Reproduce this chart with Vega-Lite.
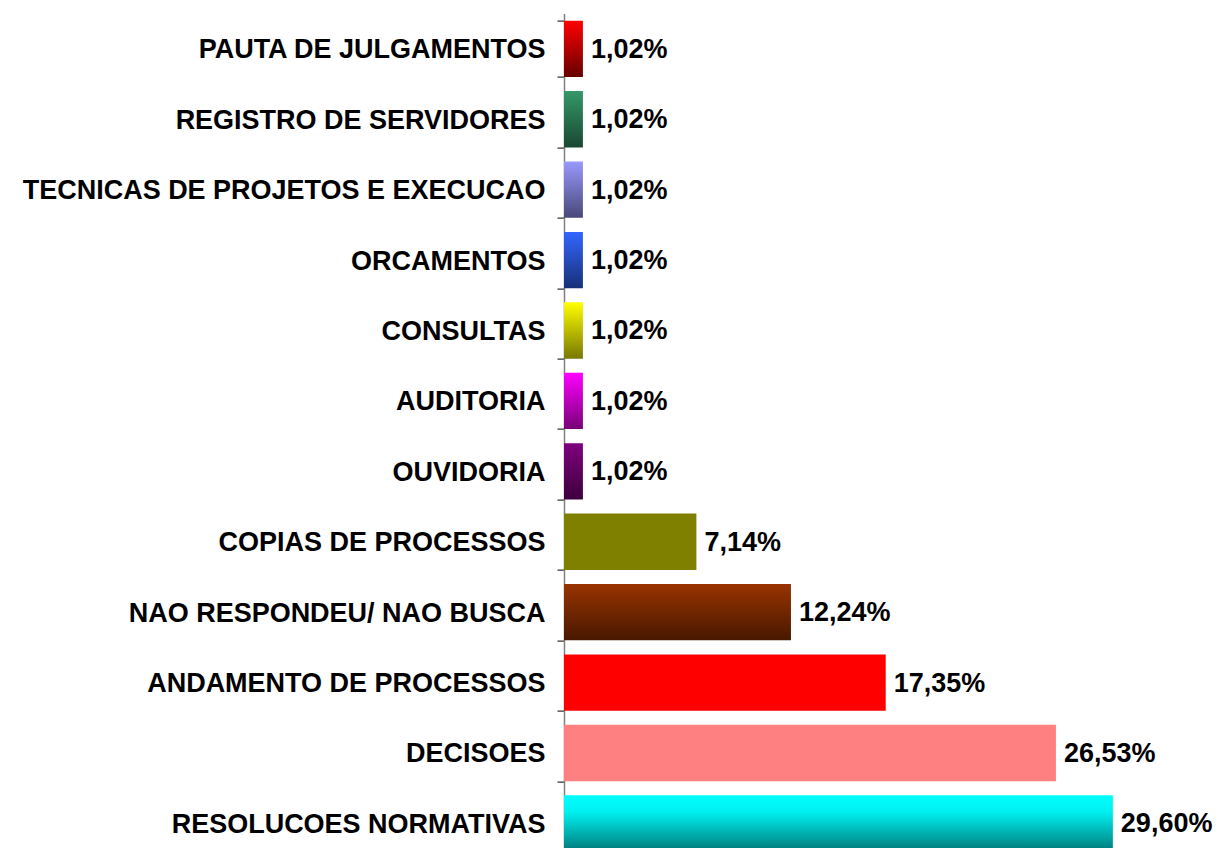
{
  "$schema": "https://vega.github.io/schema/vega-lite/v6.json",
  "autosize": {"type": "none"},
  "padding": {"left": 564, "top": 13.6, "right": 0, "bottom": 0},
  "width": 649,
  "height": 845,
  "background": "white",
  "config": {"view": {"stroke": null}, "font": "Liberation Sans"},
  "data": {"values": [
    {"cat": "PAUTA DE JULGAMENTOS", "pct": 1.02, "label": "1,02%"},
    {"cat": "REGISTRO DE SERVIDORES", "pct": 1.02, "label": "1,02%"},
    {"cat": "TECNICAS DE PROJETOS E EXECUCAO", "pct": 1.02, "label": "1,02%"},
    {"cat": "ORCAMENTOS", "pct": 1.02, "label": "1,02%"},
    {"cat": "CONSULTAS", "pct": 1.02, "label": "1,02%"},
    {"cat": "AUDITORIA", "pct": 1.02, "label": "1,02%"},
    {"cat": "OUVIDORIA", "pct": 1.02, "label": "1,02%"},
    {"cat": "COPIAS DE PROCESSOS", "pct": 7.14, "label": "7,14%"},
    {"cat": "NAO RESPONDEU/ NAO BUSCA", "pct": 12.24, "label": "12,24%"},
    {"cat": "ANDAMENTO DE PROCESSOS", "pct": 17.35, "label": "17,35%"},
    {"cat": "DECISOES", "pct": 26.53, "label": "26,53%"},
    {"cat": "RESOLUCOES NORMATIVAS", "pct": 29.60, "label": "29,60%"}
  ]},
  "encoding": {
    "y": {
      "field": "cat", "type": "nominal", "sort": null,
      "scale": {"paddingInner": 0.2, "paddingOuter": 0.1, "domain": [
        "PAUTA DE JULGAMENTOS", "REGISTRO DE SERVIDORES", "TECNICAS DE PROJETOS E EXECUCAO", "ORCAMENTOS", "CONSULTAS", "AUDITORIA", "OUVIDORIA", "COPIAS DE PROCESSOS", "NAO RESPONDEU/ NAO BUSCA", "ANDAMENTO DE PROCESSOS", "DECISOES", "RESOLUCOES NORMATIVAS"
      ]},
      "axis": {
        "title": null, "orient": "left", "domainColor": "#808080", "domainWidth": 1.5,
        "tickColor": "#000000", "tickSize": 7, "tickBand": "extent",
        "labelFont": "Liberation Sans", "labelFontWeight": "bold", "labelFontSize": 27,
        "labelColor": "#000000", "labelPadding": 12, "labelLimit": 700, "labelOffset": 1
      }
    },
    "x": {"field": "pct", "type": "quantitative", "scale": {"domain": [0, 35]}, "axis": null}
  },
  "layer": [
    {"transform": [{"filter": "datum.cat === 'PAUTA DE JULGAMENTOS'"}],
     "mark": {"type": "bar", "color": {"gradient": "linear", "x1": 0, "y1": 0, "x2": 0, "y2": 1, "stops": [{"offset": 0, "color": "#FF0000"}, {"offset": 1, "color": "#660000"}]}}},
    {"transform": [{"filter": "datum.cat === 'REGISTRO DE SERVIDORES'"}],
     "mark": {"type": "bar", "color": {"gradient": "linear", "x1": 0, "y1": 0, "x2": 0, "y2": 1, "stops": [{"offset": 0, "color": "#349967"}, {"offset": 1, "color": "#1A4733"}]}}},
    {"transform": [{"filter": "datum.cat === 'TECNICAS DE PROJETOS E EXECUCAO'"}],
     "mark": {"type": "bar", "color": {"gradient": "linear", "x1": 0, "y1": 0, "x2": 0, "y2": 1, "stops": [{"offset": 0, "color": "#9999FF"}, {"offset": 1, "color": "#484878"}]}}},
    {"transform": [{"filter": "datum.cat === 'ORCAMENTOS'"}],
     "mark": {"type": "bar", "color": {"gradient": "linear", "x1": 0, "y1": 0, "x2": 0, "y2": 1, "stops": [{"offset": 0, "color": "#3366FF"}, {"offset": 1, "color": "#183078"}]}}},
    {"transform": [{"filter": "datum.cat === 'CONSULTAS'"}],
     "mark": {"type": "bar", "color": {"gradient": "linear", "x1": 0, "y1": 0, "x2": 0, "y2": 1, "stops": [{"offset": 0, "color": "#FFFF00"}, {"offset": 1, "color": "#787800"}]}}},
    {"transform": [{"filter": "datum.cat === 'AUDITORIA'"}],
     "mark": {"type": "bar", "color": {"gradient": "linear", "x1": 0, "y1": 0, "x2": 0, "y2": 1, "stops": [{"offset": 0, "color": "#FF00FF"}, {"offset": 1, "color": "#780078"}]}}},
    {"transform": [{"filter": "datum.cat === 'OUVIDORIA'"}],
     "mark": {"type": "bar", "color": {"gradient": "linear", "x1": 0, "y1": 0, "x2": 0, "y2": 1, "stops": [{"offset": 0, "color": "#800080"}, {"offset": 1, "color": "#3C003C"}]}}},
    {"transform": [{"filter": "datum.cat === 'COPIAS DE PROCESSOS'"}],
     "mark": {"type": "bar", "color": "#808000"}},
    {"transform": [{"filter": "datum.cat === 'NAO RESPONDEU/ NAO BUSCA'"}],
     "mark": {"type": "bar", "color": {"gradient": "linear", "x1": 0, "y1": 0, "x2": 0, "y2": 1, "stops": [{"offset": 0, "color": "#993300"}, {"offset": 1, "color": "#481800"}]}}},
    {"transform": [{"filter": "datum.cat === 'ANDAMENTO DE PROCESSOS'"}],
     "mark": {"type": "bar", "color": "#FF0000"}},
    {"transform": [{"filter": "datum.cat === 'DECISOES'"}],
     "mark": {"type": "bar", "color": "#FF8080"}},
    {"transform": [{"filter": "datum.cat === 'RESOLUCOES NORMATIVAS'"}],
     "mark": {"type": "bar", "color": {"gradient": "linear", "x1": 0, "y1": 0, "x2": 0, "y2": 1, "stops": [{"offset": 0, "color": "#00FFFF"}, {"offset": 0.3, "color": "#00F0F0"}, {"offset": 1, "color": "#007878"}]}}},
    {
      "mark": {"type": "text", "align": "left", "baseline": "middle", "dx": 8, "dy": 1, "font": "Liberation Sans", "fontWeight": "bold", "fontSize": 27, "color": "#000000"},
      "encoding": {"text": {"field": "label"}}
    }
  ]
}
